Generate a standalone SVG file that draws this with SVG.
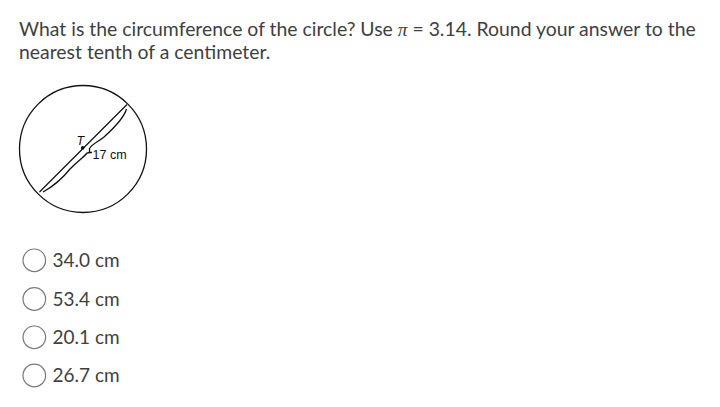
<svg xmlns="http://www.w3.org/2000/svg" width="720" height="407" viewBox="0 0 720 407">
<style>
.q{font-family:Lato,"Liberation Sans",sans-serif;font-size:19.4px;fill:#3f3f3f}
.opt{font-family:Lato,"Liberation Sans",sans-serif;font-size:19px;fill:#3f3f3f}
.radio{fill:#fff;stroke:#7a7a7a;stroke-width:1.2}
.ln{fill:none;stroke:#111;stroke-width:1.3}
.lbl{font-family:"Liberation Sans",Arial,sans-serif;font-size:12.5px;fill:#111}
</style>
<rect width="720" height="407" fill="#fff"/>
<g id="question">
<text class="q" x="19" y="36">What is the circumference of the circle? Use <tspan font-family="'Liberation Serif',serif" font-style="italic">π</tspan> = 3.14. Round your answer to the</text>
<text class="q" x="19" y="59">nearest tenth of a centimeter.</text>
</g>
<g id="figure">
<circle class="ln" cx="83" cy="149" r="63.5"/>
<line class="ln" x1="127" y1="104.5" x2="39.5" y2="192"/>
<path class="ln" d="M126.5,109 C124,118 114,128 104,137 C98,142 92,144 89.5,148.5 L89.5,152.5 L92,152.5"/>
<path class="ln" d="M89.5,152.5 L87,153 C84,157 78,161 70,169 C62,179 52,187 43,192"/>
<circle cx="82.7" cy="147.9" r="1.8" fill="#111"/>
<text class="lbl" x="76.5" y="145" font-style="italic" font-size="11px">T</text>
<text class="lbl" x="92.5" y="158.5">17 cm</text>
</g>
<g id="opt1"><circle class="radio" cx="34.3" cy="260.3" r="11.3"/><text class="opt" x="52.5" y="267">34.0 cm</text></g>
<g id="opt2"><circle class="radio" cx="34.3" cy="299" r="11.3"/><text class="opt" x="52.5" y="305.5">53.4 cm</text></g>
<g id="opt3"><circle class="radio" cx="34.3" cy="337.3" r="11.3"/><text class="opt" x="52.5" y="344">20.1 cm</text></g>
<g id="opt4"><circle class="radio" cx="34.3" cy="375.5" r="11.3"/><text class="opt" x="52.5" y="382">26.7 cm</text></g>
</svg>
